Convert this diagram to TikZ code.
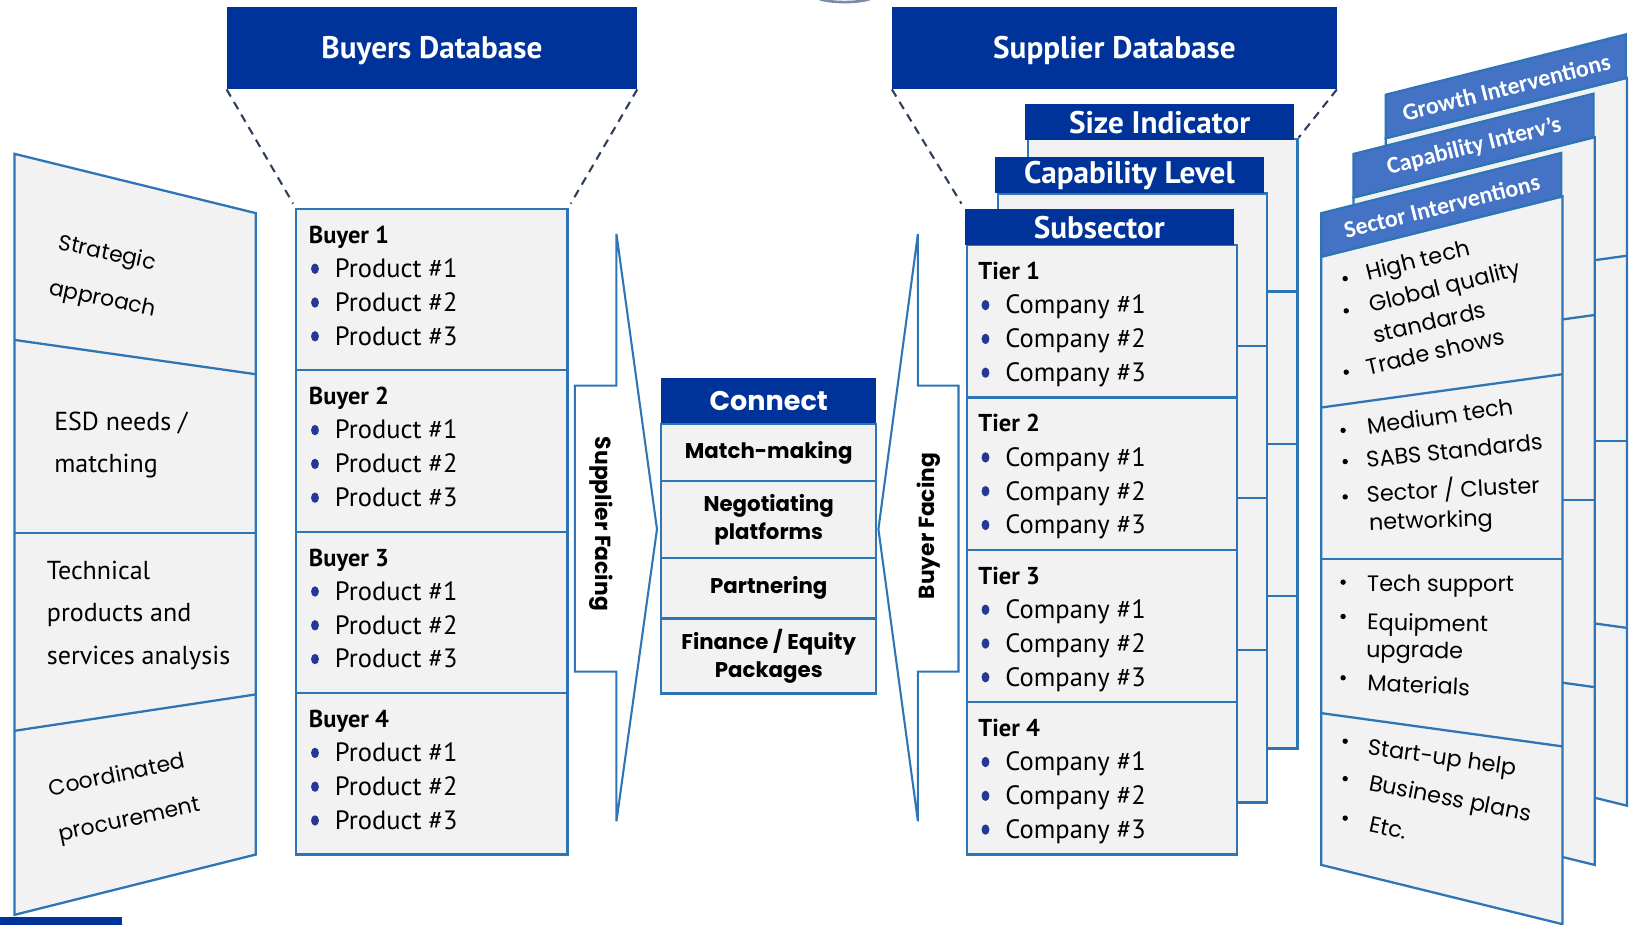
\documentclass[tikz,border=0pt]{standalone}
\usepackage{fontspec}
\setmainfont{Poppins}
\newfontfamily\twfont{PT Sans}
\newfontfamily\calfont{Carlito}
\usetikzlibrary{positioning}

\definecolor{dbblue}{RGB}{0,51,153}
\definecolor{edgeblue}{RGB}{46,117,182}
\definecolor{bandblue}{RGB}{68,114,196}
\definecolor{panelgray}{RGB}{242,242,242}
\definecolor{dotblue}{RGB}{38,56,150}
\definecolor{dashblue}{RGB}{45,62,92}
\definecolor{arcgray}{RGB}{120,140,170}

\begin{document}
\begin{tikzpicture}[x=1pt,y=-1pt,
dbbox/.style={rectangle, fill=dbblue, text=white, anchor=north west, inner sep=0pt, outer sep=0pt, minimum height=79pt, text height=22pt, text depth=2pt, font=\twfont\fontsize{30}{32}\selectfont\bfseries},
hdrbox/.style={rectangle, fill=dbblue, text=white, anchor=north west, inner sep=0pt, outer sep=0pt, minimum width=259pt, minimum height=35pt, font=\twfont\fontsize{30}{32}\selectfont\bfseries},
listbox/.style={rectangle, draw=edgeblue, fill=panelgray, line width=2.2pt, anchor=north west, inner sep=0pt, outer sep=0pt},
panelline/.style={draw=edgeblue, fill=panelgray, line width=2.2pt, line join=miter},
bandline/.style={draw=edgeblue, fill=bandblue, line width=2pt, line join=miter},
dashline/.style={dashblue, line width=2pt, dash pattern=on 8pt off 6pt},
facing/.style={draw=edgeblue, fill=white, line width=2pt, line join=miter},
headtxt/.style={anchor=base west, inner sep=0pt, font=\twfont\fontsize{23.5}{24}\selectfont\bfseries},
itemtxt/.style={anchor=base west, inner sep=0pt, font=\twfont\fontsize{25.5}{26}\selectfont},
cnhead/.style={rectangle, fill=dbblue, text=white, anchor=north west, inner sep=0pt, outer sep=0pt, minimum width=207pt, minimum height=44pt, font=\fontsize{26}{28}\selectfont\bfseries},
cncell/.style={rectangle, draw=edgeblue, fill=panelgray, line width=2.2pt, inner sep=0pt, outer sep=0pt, minimum width=207pt, align=center, font=\fontsize{20.5}{27}\selectfont\bfseries},
facetxt/.style={inner sep=0pt, font=\fontsize{21}{22}\selectfont\bfseries},
cgtxt/.style={inner sep=0pt, align=left, font=\fontsize{21}{44}\selectfont},
twtxt/.style={inner sep=0pt, align=left, anchor=west, font=\twfont\fontsize{25}{41}\selectfont},
bandtxt/.style={inner sep=0pt, text=white, font=\calfont\fontsize{23}{24}\selectfont\bfseries},
bultxt/.style={anchor=base west, inner sep=0pt, font=\fontsize{21.5}{22}\selectfont},
]
\useasboundingbox[fill=white] (0,0) rectangle (1568,889);

% faint edge at the top
\draw[arcgray, line width=2.5pt] (788,-1) .. controls (800,3) and (825,3) .. (837,-1);
% bar at the bottom left
\fill[dbblue] (0,882) rectangle (117,892);

% left side panel
\filldraw[panelline] (14,148) -- (246,205) -- (246,822) -- (14,880) -- cycle;
\draw[panelline] (14,327) -- (246,360);
\draw[panelline] (14,513) -- (246,513);
\draw[panelline] (14,703) -- (246,668);
\node[cgtxt, rotate=-12] (strategic) at (103,267) {Strategic\\approach};
\node[twtxt] (esd) at (52,428) {ESD needs /\\matching};
\node[twtxt] (technical) at (45,592) {Technical\\products and\\services analysis};
\node[cgtxt, rotate=12] (coordinated) at (120,768) {Coordinated\\procurement};

% buyers
\node[dbbox, minimum width=395pt] (buyersdb) at (218,7) {Buyers Database};
\foreach \i/\y in {1/201,2/356.25,3/511.5,4/666.75} {
  \node[listbox, minimum width=261pt, minimum height=155.25pt] (buyer\i) at (285,\y) {};
  \node[headtxt] (buyerhd\i) at (297,{\y+33}) {Buyer \i};
  \foreach \k in {1,2,3} {
    \fill[dotblue] (303,{\y+25+\k*32.5}) ellipse (3.8pt and 5pt);
    \node[itemtxt] (prod\i\k) at (322,{\y+33.5+\k*32.5}) {Product \#\k};
  }
}
\draw[dashline, shorten >=6pt] (buyersdb.south west) -- (buyer1.north west);
\draw[dashline, shorten >=6pt] (buyersdb.south east) -- (buyer1.north east);

% facing callouts
\filldraw[facing] (593,225) -- (632,509) -- (593,790) -- (593,646) -- (553,646) -- (553,371) -- (593,371) -- cycle;
\filldraw[facing] (883,225) -- (845,509) -- (883,790) -- (883,646) -- (922,646) -- (922,371) -- (883,371) -- cycle;
\node[facetxt, rotate=-90] (supfacing) at (578,504) {Supplier Facing};
\node[facetxt, rotate=90] (buyfacing) at (893,506) {Buyer Facing};

% connect
\node[cnhead] (connect) at (636,364) {Connect};
\node[cncell, minimum height=55pt, below=0pt of connect] (match) {Match-making};
\node[cncell, minimum height=74pt, below=0pt of match] (negot) {Negotiating\\platforms};
\node[cncell, minimum height=58pt, below=0pt of negot] (partner) {Partnering};
\node[cncell, minimum height=72pt, below=0pt of partner] (finance) {Finance / Equity\\Packages};

% suppliers
\node[dbbox, minimum width=428pt] (supplierdb) at (858,7) {Supplier Database};
\foreach \i in {1,2,3,4} {
  \node[listbox, minimum width=259pt, minimum height=146.5pt] (sizep\i) at (989,{134+(\i-1)*146.5}) {};
}
\node[hdrbox] (sizehd) at (986,100) {Size Indicator};
\foreach \i in {1,2,3,4} {
  \node[listbox, minimum width=259pt, minimum height=146.5pt] (capp\i) at (960,{186+(\i-1)*146.5}) {};
}
\node[hdrbox] (caphd) at (957,151) {Capability Level};
\foreach \i in {1,2,3,4} {
  \node[listbox, minimum width=260pt, minimum height=146.5pt] (tier\i) at (930,{236+(\i-1)*146.5}) {};
  \node[headtxt] (tierhd\i) at (941,{236+(\i-1)*146.5+33}) {Tier \i};
  \foreach \k in {1,2,3} {
    \fill[dotblue] (948,{236+(\i-1)*146.5+25+\k*32.5}) ellipse (3.8pt and 5pt);
    \node[itemtxt] (comp\i\k) at (967,{236+(\i-1)*146.5+33.5+\k*32.5}) {Company \#\k};
  }
}
\node[hdrbox] (subhd) at (928,201) {Subsector};
\draw[dashline, shorten >=6pt] (supplierdb.south west) -- (subhd.north west);
\draw[dashline, shorten >=2pt] (supplierdb.south east) -- (sizep1.north east);

% intervention panels
\foreach \dx/\dy/\lbl [count=\n] in {62/-114/Growth Interventions, 31/-57/Capability Interv’s, 0/0/Sector Interventions} {
  \begin{scope}[shift={(\dx,\dy)}]
    \filldraw[panelline] (1271,247) -- (1503,189) -- (1503,889) -- (1271,832) -- cycle;
    \draw[panelline] (1271,392) -- (1503,360);
    \draw[panelline] (1271,538) -- (1503,538);
    \draw[panelline] (1271,686) -- (1503,718);
    \filldraw[bandline] (1271,205) -- (1502,147) -- (1502,189) -- (1271,247) -- cycle;
    \node[bandtxt, rotate=14] (band\n) at (1387,198) {\lbl};
  \end{scope}
}
\foreach \bx/\by in {1294/268,1295/299,1295/358,1292/414,1294/444,1294/478,1292/560,1292/593,1292/652,1294/713,1294/749,1294/787} {
  \fill (\bx,\by) circle (2.6pt);
}
\foreach \tx/\ty/\a/\t [count=\n] in {1316/270/14/High tech, 1319/301/14/Global quality, 1323/330/13/standards, 1316/361/13/Trade shows,
  1316/418/8/Medium tech, 1315/450/6/SABS Standards, 1315/483/3/{Sector / Cluster}, 1317/510/2/networking,
  1315/569/0/Tech support, 1315/606/-1/Equipment, 1314/632/-1/upgrade, 1315/664/-3/Materials,
  1315/726/-8/Start-up help, 1316/760/-11/Business plans, 1316/800/-12/Etc.} {
  \node[bultxt, rotate=\a] (sv\n) at (\tx,\ty) {\t};
}
\end{tikzpicture}
\end{document}
